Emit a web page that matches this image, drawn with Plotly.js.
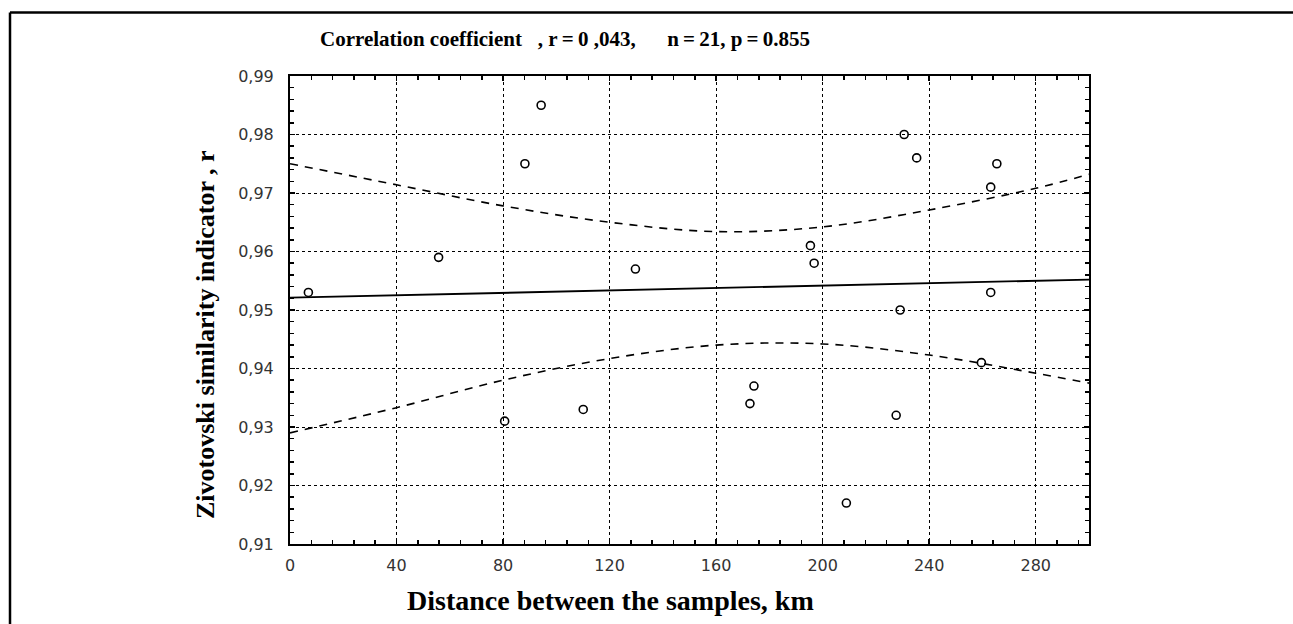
<!DOCTYPE html>
<html>
<head>
<meta charset="utf-8">
<script src="https://cdn.plot.ly/plotly-3.0.1.min.js"></script>
<style>
  html, body { margin: 0; padding: 0; background: #ffffff; }
  #chart { width: 1293px; height: 624px; }
</style>
</head>
<body>
<div id="chart"></div>
<script>
// Scatter data
const distanceKm = [6.9, 55.8, 80.6, 88.2, 94.3, 110.1, 129.7, 172.7, 174.2, 195.4, 196.8, 208.9, 227.6, 229.1, 230.6, 235.3, 259.6, 263.1, 263.1, 265.4];
const similarity = [0.953, 0.959, 0.931, 0.975, 0.985, 0.933, 0.957, 0.934, 0.937, 0.961, 0.958, 0.917, 0.932, 0.950, 0.980, 0.976, 0.941, 0.971, 0.953, 0.975];

// Regression line
const fitX = [0, 300];
const fitY = [0.9521, 0.9552];

// Confidence bands
const bandX = [0, 40, 80, 120, 160, 200, 240, 280, 300];
const bandUpper = [0.9750, 0.9714, 0.9678, 0.9650, 0.9634, 0.9642, 0.9671, 0.9708, 0.9732];
const bandLower = [0.9290, 0.9333, 0.9380, 0.9417, 0.9440, 0.9442, 0.9423, 0.9392, 0.9375];

// Tick labels
const xTickVals = [0, 40, 80, 120, 160, 200, 240, 280];
const xTickText = ["0", "40", "80", "120", "160", "200", "240", "280"];
const yTickVals = [0.91, 0.92, 0.93, 0.94, 0.95, 0.96, 0.97, 0.98, 0.99];
const yTickText = ["0,91", "0,92", "0,93", "0,94", "0,95", "0,96", "0,97", "0,98", "0,99"];

const chartTitle = "Correlation coefficient\u00A0\u00A0 , r\u2009=\u20090 ,043,\u00A0\u00A0\u00A0\u00A0\u00A0 n\u2009=\u200921, p\u2009=\u20090.855";
const xTitle = "Distance between the samples, km";
const yTitle = "Zivotovski similarity indicator , r";

const traces = [
  {
    x: bandX, y: bandUpper, type: 'scatter', mode: 'lines',
    line: { color: '#000', width: 1.6, dash: '8px,7px', shape: 'spline' },
    hoverinfo: 'skip', showlegend: false
  },
  {
    x: bandX, y: bandLower, type: 'scatter', mode: 'lines',
    line: { color: '#000', width: 1.6, dash: '8px,7px', shape: 'spline' },
    hoverinfo: 'skip', showlegend: false
  },
  {
    x: fitX, y: fitY, type: 'scatter', mode: 'lines',
    line: { color: '#000', width: 1.8 },
    showlegend: false
  },
  {
    x: distanceKm, y: similarity, type: 'scatter', mode: 'markers',
    marker: { symbol: 'circle-open', size: 8, color: '#000', line: { width: 1.6, color: '#000' } },
    showlegend: false
  }
];

const W = 1293, H = 624;
const L = 290, R = 1089, T = 76, B = 544;
const px = v => (v - L) / (R - L);
const py = v => (B - v) / (B - T);

const tickFont = { family: 'DejaVu Sans, Verdana, sans-serif', size: 16, color: '#333' };
const serifBold = (size) => ({ family: 'Liberation Serif, Times New Roman, serif', size: size, color: '#000', weight: 'bold' });

const layout = {
  width: W, height: H,
  margin: { l: L, r: W - R, t: T, b: H - B, pad: 0 },
  paper_bgcolor: '#ffffff',
  plot_bgcolor: '#ffffff',
  showlegend: false,
  title: {
    text: chartTitle,
    x: 565 / W, xref: 'container', xanchor: 'center',
    y: 1 - 39 / H, yref: 'container', yanchor: 'middle',
    font: serifBold(21)
  },
  xaxis: {
    range: [0, 300],
    tickvals: xTickVals, ticktext: xTickText,
    ticks: 'inside', ticklen: 5, tickwidth: 1.5, tickcolor: '#000',
    showline: true, linecolor: '#000', linewidth: 2, mirror: 'allticks',
    showgrid: true, gridcolor: '#000', gridwidth: 1, griddash: 'dot',
    zeroline: false,
    minor: { dtick: 8, tick0: 0, ticks: 'inside', ticklen: 4, tickwidth: 1.5, tickcolor: '#000', showgrid: false },
    tickfont: tickFont,
    ticklabelstandoff: 6
  },
  yaxis: {
    range: [0.91, 0.99],
    tickvals: yTickVals, ticktext: yTickText,
    ticks: 'inside', ticklen: 5, tickwidth: 1.5, tickcolor: '#000',
    showline: true, linecolor: '#000', linewidth: 2, mirror: 'allticks',
    showgrid: true, gridcolor: '#000', gridwidth: 1, griddash: 'dot',
    zeroline: false,
    minor: { dtick: 0.002, tick0: 0.91, ticks: 'inside', ticklen: 4, tickwidth: 1.5, tickcolor: '#000', showgrid: false },
    tickfont: tickFont,
    ticklabelstandoff: 11
  },
  annotations: [
    {
      text: xTitle, xref: 'paper', yref: 'paper',
      x: px(610), y: py(600), xanchor: 'center', yanchor: 'middle',
      showarrow: false,
      font: serifBold(28)
    },
    {
      text: yTitle, xref: 'paper', yref: 'paper',
      x: px(205), y: py(335), xanchor: 'center', yanchor: 'middle',
      textangle: -90, showarrow: false,
      font: serifBold(26)
    }
  ],
  shapes: [
    { type: 'line', xref: 'paper', yref: 'paper', x0: px(10), x1: px(1293), y0: py(12.5), y1: py(12.5), line: { color: '#000', width: 2.5 } },
    { type: 'line', xref: 'paper', yref: 'paper', x0: px(10), x1: px(10), y0: py(12.5), y1: py(624), line: { color: '#000', width: 2.5 } }
  ]
};

Plotly.newPlot('chart', traces, layout, { staticPlot: true, displayModeBar: false });
</script>
</body>
</html>
